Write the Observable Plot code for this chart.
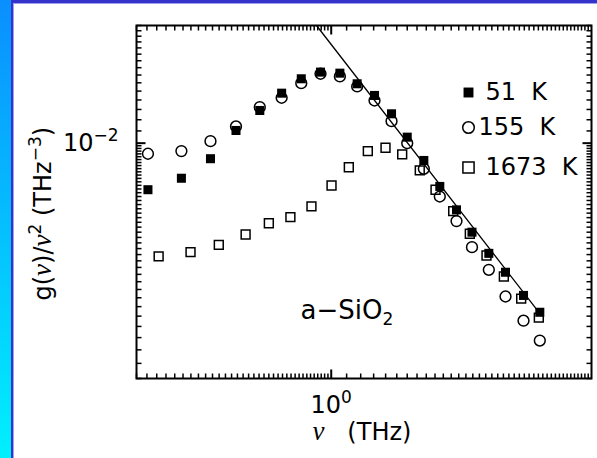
<!DOCTYPE html>
<html>
<head>
<meta charset="utf-8">
<script src="https://cdn.jsdelivr.net/npm/d3@7"></script>
<script src="https://cdn.jsdelivr.net/npm/@observablehq/plot@0.6"></script>
<style>
  html, body { margin: 0; padding: 0; background: #fff; }
  #page { position: relative; width: 597px; height: 458px; overflow: hidden; background: #fff; }
  .edge { position: absolute; }
  #chart { position: absolute; left: 0; top: 0; }
  #chart svg text { white-space: pre; }
</style>
</head>
<body>
<div id="page">
  <div class="edge" style="left:0;top:0;width:11px;height:458px;background:linear-gradient(#0a8fff,#00f0ff)"></div>
  <div class="edge" style="left:11px;top:0;width:2px;height:458px;background:#3434cc"></div>
  <div class="edge" style="left:13px;top:0;width:1px;height:458px;background:#a0a0ee"></div>
  <div class="edge" style="left:11px;top:0;width:586px;height:3px;background:#3434cc"></div>
  <div class="edge" style="left:13px;top:3px;width:584px;height:1px;background:#a0a0ee"></div>
  <div id="chart"></div>
</div>
<script>
// Reduced vibrational density of states g(ν)/ν² of amorphous silica
// at three temperatures, on log–log axes (ν in THz).

// Frequencies shared by the 51 K and 155 K runs
const nu = [0.322, 0.396, 0.474, 0.555, 0.643, 0.736, 0.831, 0.936, 1.055, 1.174, 1.307,
            1.452, 1.600, 1.773, 1.957, 2.170, 2.388, 2.650, 2.938, 3.284, 3.632];
const g51 = [0.00696, 0.00761, 0.00886, 0.01104, 0.0129, 0.01476, 0.01651, 0.01739, 0.01725,
             0.01588, 0.0145, 0.01257, 0.01048, 0.00874, 0.00714, 0.00595, 0.0050, 0.00424,
             0.00366, 0.003055, 0.00268];
const g155 = [0.00921, 0.0094, 0.01016, 0.01139, 0.01324, 0.01424, 0.01596, 0.01717, 0.01681,
              0.01555, 0.01394, 0.01187, 0.0100, 0.00819, 0.0066, 0.00545, 0.00445, 0.00373,
              0.00303, 0.00251, 0.00215];
// 1673 K run
const nu1673 = [0.344, 0.419, 0.499, 0.589, 0.680, 0.777, 0.885, 1.002, 1.115, 1.254, 1.399,
                1.551, 1.729, 1.906, 2.126, 2.356, 2.612, 2.908, 3.237, 3.610];
const g1673 = [0.00414, 0.00428, 0.00453, 0.00491, 0.00536, 0.00562, 0.00611, 0.00719, 0.00829,
               0.0094, 0.00965, 0.00916, 0.00809, 0.00696, 0.00589, 0.00494, 0.00417, 0.00354,
               0.00298, 0.00257];
// Power-law guide line (end points)
const fitNu = [0.913, 3.67];
const fitG = [0.025, 0.00261];

// Axes
const xDomain = [0.3, 5];
const yDomain = [0.0016, 0.025];
const xMajor = [1];
const yMajor = [0.01];
const xTickLabels = ["10^{0}"];
const yTickLabels = ["10^{−2}"];
const xLabel = "ν   (THz)";
const yLabel = "g(ν)/ν^{2} (THz^{−3})";
const sampleLabel = "a−SiO_{2}";
const legendLabels = ["51  K", "155  K", "1673  K"];

// minor tick positions along each axis
const xMinor = d3.range(0.30, 0.999, 0.02).concat(d3.range(1.1, 5.0, 0.1));
const yMinor = d3.range(0.0016, 0.00999, 0.0002).concat(d3.range(0.011, 0.0251, 0.001));

const W = 597, H = 458;
const mL = 136, mR = 6, mT = 25, mB = 80;
const minorLen = 5, majorLen = 9;

const pts = (xs, ys) => xs.map((x, i) => ({x, y: ys[i]}));
const legendStyle = [
  {symbol: "square", r: 5.6, fill: "black", stroke: "none", textDx: 349, dy: 67},
  {symbol: "circle", r: 5.8, fill: "none", stroke: "black", textDx: 342, dy: 102},
  {symbol: "square", r: 6.3, fill: "none", stroke: "black", textDx: 349, dy: 142}
];

// A tick is a short segment drawn from the frame edge towards the inside;
// the symbol size r is its length in pixels.
const segment = (ux, uy) => ({
  draw(context, size) {
    const len = Math.sqrt(size / Math.PI);
    context.moveTo(0, 0);
    context.lineTo(ux * len, uy * len);
  }
});
const tickUp = segment(0, -1), tickDown = segment(0, 1);
const tickRight = segment(1, 0), tickLeft = segment(-1, 0);

const frameTicks = (xs, ys, len, width) => [
  Plot.dot(xs, {x: d => d, frameAnchor: "bottom", symbol: tickUp, r: len, stroke: "black", fill: "none", strokeWidth: width}),
  Plot.dot(xs, {x: d => d, frameAnchor: "top", symbol: tickDown, r: len, stroke: "black", fill: "none", strokeWidth: width}),
  Plot.dot(ys, {y: d => d, frameAnchor: "left", symbol: tickRight, r: len, stroke: "black", fill: "none", strokeWidth: width}),
  Plot.dot(ys, {y: d => d, frameAnchor: "right", symbol: tickLeft, r: len, stroke: "black", fill: "none", strokeWidth: width})
];

const marks = [
  ...frameTicks(xMinor, yMinor, minorLen, 1.5),
  ...frameTicks(xMajor, yMajor, majorLen, 2),
  // power-law guide
  Plot.line(pts(fitNu, fitG), {x: "x", y: "y", stroke: "black", strokeWidth: 1.3, clip: true}),
  // data
  Plot.dot(pts(nu1673, g1673), {x: "x", y: "y", symbol: "square", r: 5.0, fill: "none", stroke: "black", strokeWidth: 1.5}),
  Plot.dot(pts(nu, g155), {x: "x", y: "y", symbol: "circle", r: 5.4, fill: "none", stroke: "black", strokeWidth: 1.5}),
  Plot.dot(pts(nu, g51), {x: "x", y: "y", symbol: "square", r: 5.1, fill: "black", stroke: "none"}),
  Plot.frame({stroke: "black", strokeWidth: 2}),
  // tick labels
  Plot.text(xMajor, {x: d => d, frameAnchor: "bottom", dy: 27, text: (d, i) => xTickLabels[i], textAnchor: "middle", lineAnchor: "middle"}),
  Plot.text(yMajor, {y: d => d, frameAnchor: "left", dx: -18, text: (d, i) => yTickLabels[i], textAnchor: "end", lineAnchor: "middle"}),
  // axis titles
  Plot.text([xLabel], {frameAnchor: "bottom-left", dx: 176, dy: 54, text: d => d, textAnchor: "start", lineAnchor: "middle"}),
  Plot.text([yLabel], {frameAnchor: "bottom-left", dx: -93, dy: -78, rotate: -90, text: d => d, textAnchor: "start", lineAnchor: "middle"}),
  // sample annotation
  Plot.text([sampleLabel], {frameAnchor: "top-left", dx: 164, dy: 285, text: d => d, textAnchor: "start", lineAnchor: "middle", fontSize: 26})
];

// legend
legendLabels.forEach((label, i) => {
  const s = legendStyle[i];
  marks.push(
    Plot.dot([label], {frameAnchor: "top-left", dx: 332, dy: s.dy, symbol: s.symbol, r: s.r,
                       fill: s.fill, stroke: s.stroke, strokeWidth: 1.5}),
    Plot.text([label], {frameAnchor: "top-left", dx: s.textDx, dy: s.dy, text: d => d,
                        textAnchor: "start", lineAnchor: "middle"})
  );
});

const chart = Plot.plot({
  width: W, height: H,
  marginLeft: mL, marginRight: mR, marginTop: mT, marginBottom: mB,
  x: {type: "log", domain: xDomain, axis: null},
  y: {type: "log", domain: yDomain, axis: null},
  style: {background: "transparent", fontFamily: "'DejaVu Sans', sans-serif", fontSize: "24px", color: "black"},
  marks
});

// turn ^{..} / _{..} markup into raised / lowered tspans and set ν in italic serif
const SVGNS = "http://www.w3.org/2000/svg";
chart.querySelectorAll("text").forEach(t => {
  const s = t.textContent;
  if (!/[\^_ν]/.test(s)) return;
  t.textContent = "";
  const re = /\^\{([^}]*)\}|_\{([^}]*)\}|(ν)|([^\^_ν]+)/g;
  let m;
  while ((m = re.exec(s))) {
    const span = document.createElementNS(SVGNS, "tspan");
    if (m[1] != null) {
      span.textContent = m[1];
      span.setAttribute("font-size", "17px");
      span.setAttribute("baseline-shift", "10px");
    } else if (m[2] != null) {
      span.textContent = m[2];
      span.setAttribute("font-size", "17px");
      span.setAttribute("baseline-shift", "-6px");
    } else if (m[3] != null) {
      span.textContent = m[3];
      span.setAttribute("font-family", "'Liberation Serif', serif");
      span.setAttribute("font-style", "italic");
      span.setAttribute("font-size", "27px");
    } else {
      span.textContent = m[4];
    }
    t.appendChild(span);
  }
});

document.getElementById("chart").appendChild(chart);
</script>
</body>
</html>
